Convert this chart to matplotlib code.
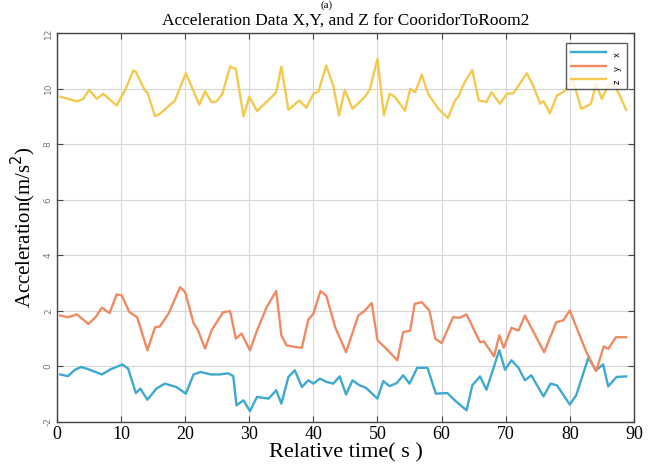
import matplotlib
matplotlib.use("Agg")
import matplotlib.pyplot as plt

# Accelerometer samples (time in s, acceleration in m/s^2)
x_time = [0.5, 1.7, 2.8, 3.8, 5.1, 7.0, 8.4, 10.2, 11.1, 12.3, 13.0, 14.1, 15.5, 16.8,
          18.6, 20.1, 21.3, 22.4, 24.0, 25.3, 26.7, 27.5, 28.0, 29.1, 30.1, 31.2, 33.0,
          34.2, 35.0, 36.1, 37.1, 38.2, 39.2, 40.0, 41.0, 42.1, 43.1, 44.1, 45.1, 46.1,
          47.2, 48.2, 50.0, 50.9, 51.9, 53.0, 54.0, 55.0, 56.2, 57.8, 59.1, 60.9, 62.2,
          63.9, 64.8, 66.0, 67.0, 69.0, 69.9, 70.9, 72.0, 73.0, 74.0, 75.9, 77.0, 78.0,
          80.0, 81.0, 82.9, 84.1, 85.2, 86.0, 87.3, 88.8]
x_vals = [-0.29, -0.35, -0.12, -0.02, -0.12, -0.29, -0.10, 0.07, -0.08, -0.96, -0.80,
          -1.20, -0.80, -0.62, -0.74, -0.98, -0.29, -0.20, -0.29, -0.29, -0.25, -0.35,
          -1.40, -1.22, -1.61, -1.10, -1.16, -0.86, -1.34, -0.38, -0.14, -0.74, -0.50,
          -0.62, -0.44, -0.56, -0.62, -0.36, -1.01, -0.50, -0.68, -0.77, -1.16, -0.53,
          -0.71, -0.60, -0.32, -0.62, -0.05, -0.05, -0.98, -0.96, -1.25, -1.58, -0.68,
          -0.36, -0.84, 0.58, -0.12, 0.22, -0.05, -0.50, -0.32, -1.08, -0.62, -0.68,
          -1.37, -1.04, 0.31, -0.14, 0.07, -0.72, -0.38, -0.36]

y_time = [0.5, 1.7, 3.1, 4.9, 6.0, 7.0, 8.2, 9.3, 10.1, 11.3, 12.5, 14.1, 15.3, 16.0,
          17.4, 19.2, 20.0, 21.3, 22.0, 23.1, 24.1, 25.9, 27.0, 27.9, 28.8, 30.1, 31.2,
          32.7, 34.2, 35.0, 35.8, 37.1, 38.2, 39.2, 40.0, 41.1, 42.0, 43.4, 45.1, 47.0,
          48.0, 49.1, 50.0, 51.4, 53.1, 54.0, 55.1, 55.8, 56.9, 58.1, 59.0, 60.0, 61.8,
          62.8, 63.9, 66.0, 66.6, 68.2, 69.0, 69.7, 70.9, 72.0, 73.0, 76.0, 77.9, 79.0,
          80.0, 82.6, 84.1, 85.3, 86.0, 87.2, 88.8]
y_vals = [1.83, 1.77, 1.87, 1.53, 1.77, 2.11, 1.92, 2.59, 2.55, 1.95, 1.77, 0.58, 1.41,
          1.43, 1.90, 2.85, 2.67, 1.56, 1.30, 0.64, 1.29, 1.95, 1.99, 1.00, 1.18, 0.58,
          1.29, 2.13, 2.71, 1.12, 0.76, 0.70, 0.67, 1.68, 1.90, 2.71, 2.55, 1.41, 0.51,
          1.83, 2.00, 2.28, 0.94, 0.63, 0.22, 1.23, 1.29, 2.25, 2.31, 2.01, 1.00, 0.84,
          1.77, 1.75, 1.87, 0.87, 0.90, 0.36, 1.12, 0.67, 1.39, 1.29, 1.83, 0.51, 1.59,
          1.66, 2.01, 0.51, -0.17, 0.72, 0.63, 1.05, 1.05]

z_time = [0.5, 3.1, 4.1, 5.0, 6.2, 7.2, 9.3, 10.6, 11.9, 12.3, 13.7, 14.1, 15.3, 16.1,
          18.4, 20.1, 22.2, 23.1, 24.1, 24.9, 25.8, 27.0, 27.9, 29.1, 30.0, 31.2, 33.2,
          34.2, 35.0, 36.1, 37.8, 38.9, 40.0, 40.8, 42.0, 43.1, 44.0, 44.9, 46.1, 48.0,
          48.8, 50.0, 51.0, 51.9, 52.7, 54.3, 55.1, 55.9, 56.9, 57.9, 59.5, 61.0, 62.1,
          62.6, 63.6, 64.8, 65.8, 67.0, 67.8, 69.1, 70.2, 71.2, 73.3, 74.3, 75.4, 75.9,
          76.9, 78.0, 79.0, 80.5, 81.8, 83.3, 84.1, 85.0, 86.0, 86.8, 87.8, 88.8]
z_vals = [9.71, 9.54, 9.63, 9.95, 9.63, 9.81, 9.39, 9.93, 10.65, 10.60, 9.93, 9.86, 9.00,
          9.10, 9.57, 10.55, 9.42, 9.90, 9.51, 9.54, 9.81, 10.79, 10.71, 9.00, 9.71, 9.19,
          9.63, 9.87, 10.79, 9.23, 9.57, 9.31, 9.81, 9.90, 10.83, 10.10, 9.03, 9.95, 9.27,
          9.69, 9.97, 11.07, 9.03, 9.81, 9.70, 9.20, 9.99, 9.87, 10.50, 9.81, 9.27, 8.94,
          9.57, 9.70, 10.23, 10.67, 9.57, 9.52, 9.87, 9.45, 9.81, 9.83, 10.55, 10.10, 9.45,
          9.55, 9.11, 9.75, 9.87, 10.30, 9.27, 9.45, 10.17, 9.63, 10.10, 10.20, 9.75, 9.23]

series_labels = ["x", "y", "z"]
x_ticks = [0, 10, 20, 30, 40, 50, 60, 70, 80, 90]
y_ticks = [-2, 0, 2, 4, 6, 8, 10, 12]

colors = ["#3fa8cf", "#ef8a62", "#f3c94f"]
serif = ["Liberation Serif", "DejaVu Serif"]

fig = plt.figure(figsize=(6.54, 4.67), dpi=100)
ax = fig.add_axes([0.0872, 0.0964, 0.882, 0.833])

for t, v, c, lab in zip([x_time, y_time, z_time], [x_vals, y_vals, z_vals],
                        colors, series_labels):
    ax.plot(t, v, color=c, lw=1.7, label=lab)

ax.set_xlim(0, 90)
ax.set_ylim(-2, 12)
ax.set_xticks(x_ticks)
ax.set_yticks(y_ticks)
ax.set_xticklabels([str(v) for v in x_ticks], fontfamily=serif, fontsize=13)
ax.set_yticklabels([str(v) for v in y_ticks], fontsize=6.5, color="#777777", rotation=90,
                   va="center")
ax.grid(True, color="#d6d6d6", lw=0.8)
ax.tick_params(direction="in", length=4, color="#444444", top=True, right=True, pad=3)
for s in ax.spines.values():
    s.set_color("#444444")
    s.set_linewidth(1.0)

ax.set_title("Acceleration Data X,Y, and Z for CooridorToRoom2", fontfamily=serif,
             fontsize=12.5, pad=6)
ax.set_xlabel("Relative time( s )", fontfamily=serif, fontsize=16, labelpad=0)
ax.set_ylabel("Acceleration(m/s$^2$)", fontfamily=serif, fontsize=15, labelpad=4)
fig.text(0.5, 0.999, "(a)", ha="center", va="top", fontfamily=serif, fontsize=8)

leg = ax.legend(loc="upper right", fontsize=6, handlelength=4.2, frameon=True,
                fancybox=False, edgecolor="#333333", borderpad=0.6, labelspacing=0.55,
                bbox_to_anchor=(0.995, 0.985))
leg.get_frame().set_linewidth(1.0)
for txt in leg.get_texts():
    txt.set_rotation(90)
    txt.set_va("center")

fig.savefig("out.png", dpi=100)
